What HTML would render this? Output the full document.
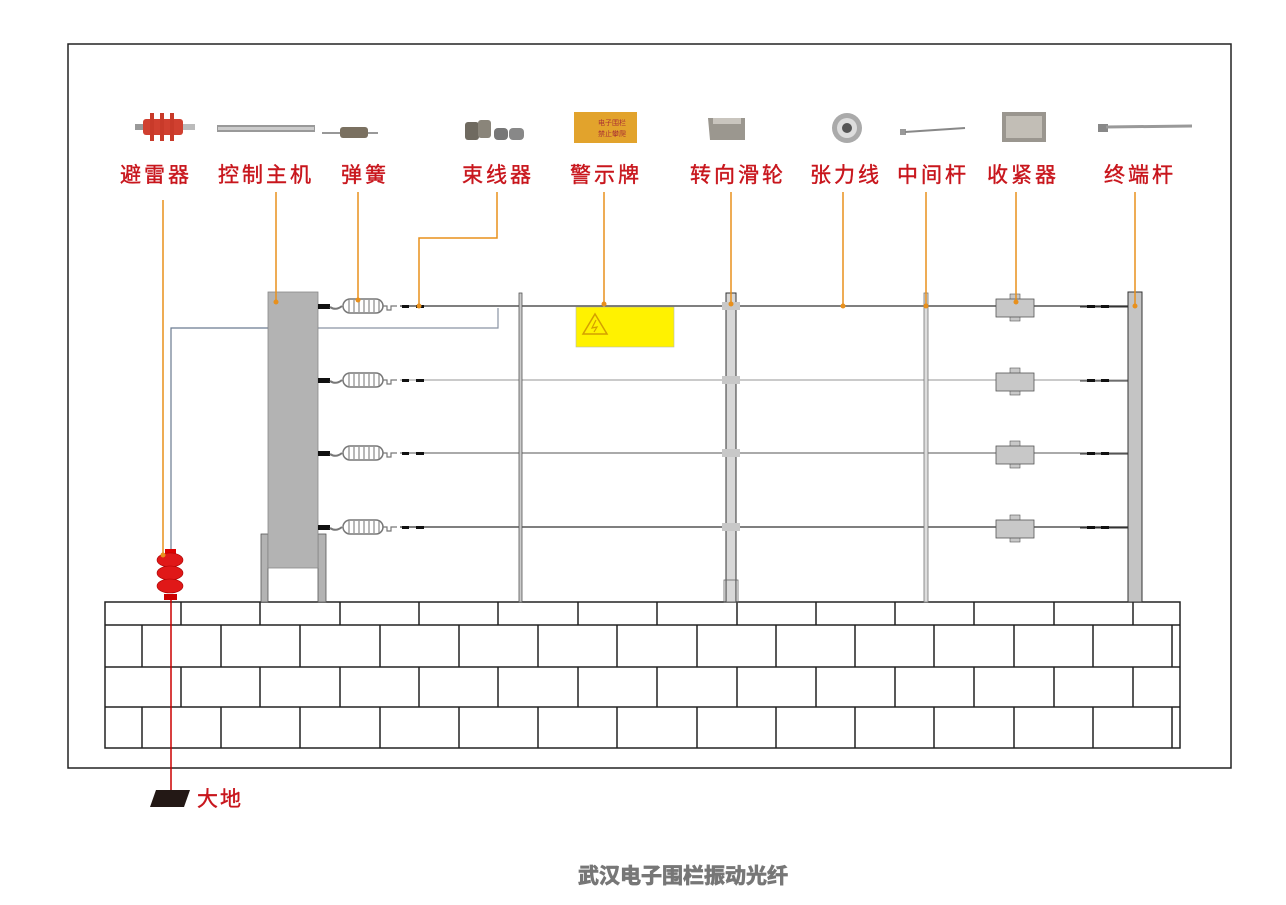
<!DOCTYPE html>
<html><head><meta charset="utf-8"><style>
html,body{margin:0;padding:0;background:#fff;width:1286px;height:905px;overflow:hidden}
svg{display:block}
.lb{font-family:"Liberation Sans","Noto Sans CJK SC",sans-serif;font-size:21px;fill:#c8161d;letter-spacing:3px;stroke:#c8161d;stroke-width:0.4}
</style></head><body>
<svg width="1286" height="905" viewBox="0 0 1286 905" xmlns="http://www.w3.org/2000/svg">
<rect x="68" y="44" width="1163" height="724" fill="none" stroke="#222" stroke-width="1.5"/>

<!-- icons -->
<g>
 <rect x="135" y="124" width="12" height="6" fill="#999"/>
 <rect x="143" y="119" width="40" height="16" rx="3" fill="#d04030"/>
 <rect x="150" y="113" width="4" height="28" fill="#c83a2a"/><rect x="160" y="113" width="4" height="28" fill="#c83a2a"/><rect x="170" y="113" width="4" height="28" fill="#c83a2a"/>
 <rect x="183" y="124" width="12" height="6" fill="#bbb"/>
 <rect x="217" y="125" width="98" height="7" fill="#999"/><rect x="218" y="127" width="96" height="3" fill="#ccc"/>
 <line x1="322" y1="133" x2="340" y2="133" stroke="#777" stroke-width="1.5"/>
 <rect x="340" y="127" width="28" height="11" rx="3" fill="#7a7060"/>
 <line x1="368" y1="133" x2="378" y2="133" stroke="#777" stroke-width="1.5"/>
 <rect x="465" y="122" width="14" height="18" rx="3" fill="#6f6a60"/><rect x="478" y="120" width="13" height="18" rx="3" fill="#8a857a"/>
 <rect x="494" y="128" width="14" height="12" rx="4" fill="#777"/><rect x="509" y="128" width="15" height="12" rx="4" fill="#888"/>
 <rect x="574" y="112" width="63" height="31" fill="#e2a32c"/>
 <text x="598" y="125" font-size="7" fill="#a33" font-family="Noto Sans CJK SC,sans-serif">电子围栏</text>
 <text x="598" y="136" font-size="7" fill="#a33" font-family="Noto Sans CJK SC,sans-serif">禁止攀爬</text>
 <path d="M708 118 L745 118 L745 140 L710 140 Z" fill="#9b978f"/><rect x="713" y="118" width="28" height="6" fill="#c9c5be"/>
 <circle cx="847" cy="128" r="15" fill="#aaa"/><circle cx="847" cy="128" r="10" fill="#ddd"/><circle cx="847" cy="128" r="5" fill="#555"/>
 <rect x="900" y="129" width="6" height="6" fill="#999"/><line x1="905" y1="132" x2="965" y2="128" stroke="#888" stroke-width="2"/>
 <rect x="1002" y="112" width="44" height="30" fill="#9a968f"/><rect x="1006" y="116" width="36" height="22" fill="#c2beb6"/>
 <rect x="1098" y="124" width="10" height="8" fill="#888"/><line x1="1106" y1="127" x2="1192" y2="126" stroke="#999" stroke-width="3"/>
</g>

<!-- labels -->
<g text-anchor="middle">
<text x="156" y="182" class="lb">避雷器</text>
<text x="266" y="182" class="lb">控制主机</text>
<text x="365" y="182" class="lb">弹簧</text>
<text x="498" y="182" class="lb">束线器</text>
<text x="606" y="182" class="lb">警示牌</text>
<text x="738" y="182" class="lb">转向滑轮</text>
<text x="846" y="182" class="lb">张力线</text>
<text x="933" y="182" class="lb">中间杆</text>
<text x="1023" y="182" class="lb">收紧器</text>
<text x="1140" y="182" class="lb">终端杆</text>
</g>

<!-- wall -->
<g stroke="#222" stroke-width="1.5" fill="none">
<rect x="105" y="602" width="1075" height="146" fill="#fff"/>
<line x1="105" y1="625" x2="1180" y2="625"/><line x1="105" y1="667" x2="1180" y2="667"/><line x1="105" y1="707" x2="1180" y2="707"/>
<path d="M181 602V625M260 602V625M340 602V625M419 602V625M498 602V625M578 602V625M657 602V625M737 602V625M816 602V625M895 602V625M974 602V625M1054 602V625M1133 602V625"/>
<path d="M181 667V707M260 667V707M340 667V707M419 667V707M498 667V707M578 667V707M657 667V707M737 667V707M816 667V707M895 667V707M974 667V707M1054 667V707M1133 667V707"/>
<path d="M142 625V667M221 625V667M300 625V667M380 625V667M459 625V667M538 625V667M617 625V667M697 625V667M776 625V667M855 625V667M934 625V667M1014 625V667M1093 625V667M1172 625V667"/>
<path d="M142 707V748M221 707V748M300 707V748M380 707V748M459 707V748M538 707V748M617 707V748M697 707V748M776 707V748M855 707V748M934 707V748M1014 707V748M1093 707V748M1172 707V748"/>
</g>

<!-- wires -->
<line x1="400" y1="306" x2="1128" y2="306" stroke="#333" stroke-width="1.2"/>
<line x1="400" y1="380" x2="1128" y2="380" stroke="#aaa" stroke-width="1.2"/>
<line x1="400" y1="453" x2="1128" y2="453" stroke="#777" stroke-width="1.2"/>
<line x1="400" y1="527" x2="1128" y2="527" stroke="#333" stroke-width="1.2"/>

<!-- blue signal wire -->
<polyline points="171,555 171,328 268,328" fill="none" stroke="#6a7a90" stroke-width="1.2"/>
<polyline points="318,328 498,328 498,308" fill="none" stroke="#8a94a4" stroke-width="1.2"/>

<!-- controller -->
<rect x="261" y="534" width="7" height="68" fill="#b3b3b3" stroke="#555" stroke-width="0.8"/>
<rect x="318" y="534" width="8" height="68" fill="#b3b3b3" stroke="#555" stroke-width="0.8"/>
<rect x="268" y="292" width="50" height="276" fill="#b3b3b3" stroke="#888" stroke-width="0.8"/>

<!-- springs -->
<g id="sp">
<rect x="318" y="304" width="12" height="5" fill="#111"/>
<path d="M330 307 Q336 311 342 306" stroke="#777" stroke-width="2" fill="none"/>
<rect x="343" y="299" width="40" height="14" rx="7" fill="#fff" stroke="#777" stroke-width="1.5"/>
<path d="M349 300v12M354 300v12M359 300v12M364 300v12M369 300v12M374 300v12M379 300v12" stroke="#888" stroke-width="1.2"/>
<path d="M383 306 h4 v4 h4 v-4 h6" stroke="#777" fill="none" stroke-width="1.2"/>
<rect x="402" y="305" width="7" height="3" fill="#111"/><rect x="416" y="305" width="8" height="3" fill="#111"/>
</g>
<use href="#sp" y="74"/><use href="#sp" y="147"/><use href="#sp" y="221"/>

<!-- warning sign -->
<rect x="576" y="307" width="98" height="40" fill="#fff200" stroke="#bba" stroke-width="0.6"/>
<path d="M595 314 L607 334 L583 334 Z" fill="none" stroke="#d4a000" stroke-width="1.5"/>
<path d="M596 320 L592 328 L597 327 L594 332" stroke="#d4a000" fill="none" stroke-width="1.2"/>

<!-- middle thin post -->
<rect x="519" y="293" width="3" height="309" fill="#ccc" stroke="#555" stroke-width="0.8"/>
<!-- corner post -->
<rect x="726" y="293" width="10" height="309" fill="#d8d8d8" stroke="#333" stroke-width="1"/>
<rect x="722" y="302" width="18" height="8" fill="#c8c8c8"/>
<rect x="722" y="376" width="18" height="8" fill="#c8c8c8"/>
<rect x="722" y="449" width="18" height="8" fill="#c8c8c8"/>
<rect x="722" y="523" width="18" height="8" fill="#c8c8c8"/>
<rect x="724" y="580" width="14" height="22" fill="none" stroke="#666" stroke-width="0.8"/>
<!-- intermediate post -->
<rect x="924" y="293" width="4" height="309" fill="#ddd" stroke="#777" stroke-width="0.8"/>
<!-- tensioners -->
<g id="tn"><rect x="1010" y="294" width="10" height="6" fill="#c8c8c8" stroke="#555" stroke-width="0.6"/><rect x="1010" y="315" width="10" height="6" fill="#c8c8c8" stroke="#555" stroke-width="0.6"/><rect x="996" y="299" width="38" height="18" fill="#c8c8c8" stroke="#555" stroke-width="0.8"/></g>
<use href="#tn" y="74"/><use href="#tn" y="147"/><use href="#tn" y="221"/>
<!-- end insulators -->
<g id="ei"><line x1="1080" y1="307" x2="1128" y2="307" stroke="#333"/><rect x="1087" y="305" width="8" height="3" fill="#111"/><rect x="1101" y="305" width="8" height="3" fill="#111"/></g>
<use href="#ei" y="74"/><use href="#ei" y="147"/><use href="#ei" y="221"/>
<!-- end post -->
<rect x="1128" y="292" width="14" height="310" fill="#c4c4c4" stroke="#333" stroke-width="1"/>

<!-- arrester -->
<rect x="165" y="549" width="11" height="6" fill="#d00"/>
<ellipse cx="170" cy="560" rx="13" ry="7" fill="#e01818" stroke="#a00" stroke-width="0.6"/>
<ellipse cx="170" cy="573" rx="13" ry="7" fill="#e01818" stroke="#a00" stroke-width="0.6"/>
<ellipse cx="170" cy="586" rx="13" ry="7" fill="#e01818" stroke="#a00" stroke-width="0.6"/>
<rect x="164" y="594" width="13" height="6" fill="#c00"/>
<!-- ground -->
<line x1="171" y1="598" x2="171" y2="790" stroke="#c00" stroke-width="1.5"/>
<polygon points="156,790 190,790 184,807 150,807" fill="#231815"/>
<text x="197" y="806" class="lb" style="letter-spacing:2px">大地</text>

<!-- orange leaders -->
<g stroke="#e8901c" stroke-width="1.5" fill="none">
<path d="M163 200V555"/><path d="M276 192V302"/><path d="M358 192V300"/>
<path d="M497 192V238H419V306"/><path d="M604 192V304"/><path d="M731 192V304"/>
<path d="M843 192V306"/><path d="M926 192V306"/><path d="M1016 192V302"/><path d="M1135 192V306"/>
</g>
<g fill="#e8901c">
<circle cx="163" cy="555" r="2.5"/><circle cx="276" cy="302" r="2.5"/><circle cx="358" cy="300" r="2.5"/>
<circle cx="419" cy="306" r="2.5"/><circle cx="604" cy="304" r="2.5"/><circle cx="731" cy="304" r="2.5"/>
<circle cx="843" cy="306" r="2.5"/><circle cx="926" cy="306" r="2.5"/><circle cx="1016" cy="302" r="2.5"/><circle cx="1135" cy="306" r="2.5"/>
</g>

<text x="683" y="883" text-anchor="middle" font-family="Liberation Sans,Noto Sans CJK SC,sans-serif" font-size="21" font-weight="bold" fill="#777" stroke="#777" stroke-width="0.8">武汉电子围栏振动光纤</text>
</svg>
</body></html>
